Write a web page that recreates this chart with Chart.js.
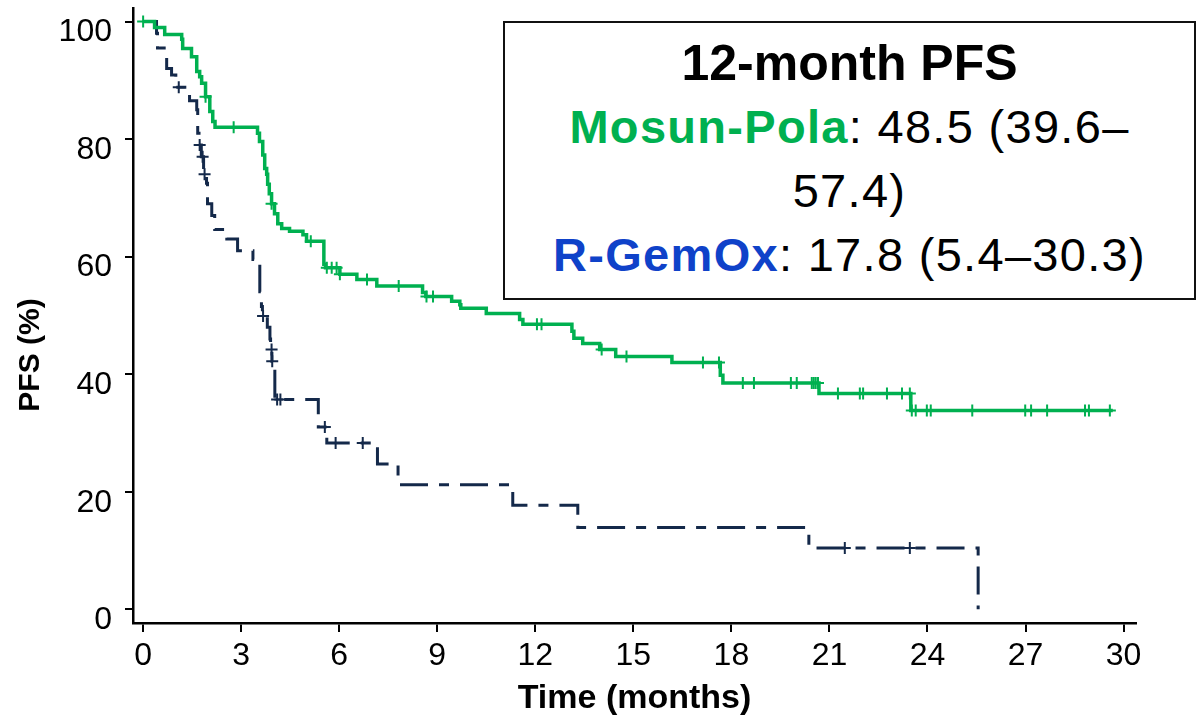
<!DOCTYPE html>
<html>
<head>
<meta charset="utf-8">
<script src="https://cdn.jsdelivr.net/npm/chart.js@4.4.1/dist/chart.umd.min.js"></script>
<style>
  body { margin: 0; background: #fff; }
  #wrap { position: relative; width: 1198px; height: 719px; }
  #pfsBox {
    position: absolute; left: 503px; top: 21px; width: 693px; height: 279px;
    box-sizing: border-box; border: 2px solid #111; background: #fff;
    padding-top: 8px; text-align: center;
    font-family: "Liberation Sans", Arial, sans-serif; color: #000;
  }
  #pfsBox div { line-height: 64px; height: 64px; font-size: 47px; letter-spacing: 1.3px; white-space: nowrap; }
  #pfsBox .head { font-size: 50px; font-weight: bold; letter-spacing: 0; }
  .green { color: #00b050; font-weight: bold; }
  .blue { color: #0f42c9; font-weight: bold; }
</style>
</head>
<body>
<div id="wrap">
  <canvas id="pfsChart" width="1198" height="719"></canvas>
  <div id="pfsBox">
    <div class="head">12-month PFS</div>
    <div><span class="green">Mosun-Pola</span>: 48.5 (39.6–</div>
    <div>57.4)</div>
    <div><span class="blue">R-GemOx</span>: 17.8 (5.4–30.3)</div>
  </div>
</div>
<script>
// Mosun-Pola arm: KM step times (months) and PFS (%) after each step
const mosunTimes = [0, 0.35, 0.66, 1.18, 1.21, 1.48, 1.64, 1.73, 1.79, 1.91, 2.04, 2.13, 2.2,
  3.5, 3.56, 3.66, 3.72, 3.78, 3.81, 3.86, 3.93, 4.02, 4.12, 4.24, 4.48, 4.89, 5.0,
  5.53, 5.58, 6.02, 6.54, 7.15, 8.55, 8.65, 9.44, 9.69, 9.72, 10.5, 11.52, 11.62,
  13.12, 13.18, 13.45, 13.97, 14.46, 16.18, 17.66, 17.74, 20.68, 23.49, 29.67];
const mosunPfs = [100, 99, 97.8, 97, 95.4, 94, 91.5, 90.6, 89.5, 87.2, 84.7, 83, 82,
  81, 79.6, 77.3, 75, 74, 72.3, 70.7, 69, 67.3, 65.6, 64.8, 64.3, 63.7, 62.6,
  58.7, 58.1, 57.0, 56.1, 55.0, 53.9, 53.2, 52.4, 51.8, 51.2, 50.3, 49.3, 48.5,
  47.3, 46.1, 45.2, 44.2, 43.0, 42.0, 39.8, 38.5, 36.7, 33.8, 33.8];
const mosunCensored = [0, 1.91, 2.77, 3.93, 5.13, 5.62, 5.77, 5.92, 6.02, 6.85, 7.82, 8.67, 8.87,
  12.05, 12.19, 14.03, 14.79, 17.13, 17.62, 18.35, 18.69, 19.82, 20.0, 20.46, 20.52, 20.58, 20.65,
  21.26, 21.93, 22.03, 22.76, 23.22, 23.46, 23.52, 23.64, 23.98, 24.1, 25.37, 26.99, 27.17,
  27.66, 28.82, 28.94, 29.58];

// R-GemOx arm
const gemoxTimes = [0, 0.41, 0.44, 0.72, 0.87, 1.0, 1.42, 1.64, 1.67, 1.71, 1.78, 1.85, 1.94, 1.97,
  2.1, 2.19, 2.56, 2.89, 3.36, 3.57, 3.62, 3.65, 3.8, 3.88, 3.9, 3.94, 4.03,
  5.36, 5.62, 7.17, 7.8, 11.31, 13.3, 20.37, 25.55];
const gemoxPfs = [100, 98, 95.5, 92, 90.9, 88.8, 86.5, 85, 81, 79, 77, 74, 72.5, 69,
  67, 64.6, 63, 61, 59.5, 54, 51.5, 49.9, 48, 46, 44.2, 42.2, 35.7,
  31, 28.3, 24.7, 21.2, 17.7, 13.9, 10.4, 0];
const gemoxCensored = [1.09, 1.73, 1.82, 1.88, 3.67, 3.93, 3.95, 4.1, 4.2, 5.56, 5.89, 6.72, 21.47, 23.46];

const xTickValues = [0, 3, 6, 9, 12, 15, 18, 21, 24, 27, 30];
const yTickValues = [0, 20, 40, 60, 80, 100];

const GREEN = '#00b050';
const NAVY = '#14294a';

function curve(times, pfs) {
  return times.map((t, i) => ({ x: t, y: pfs[i] }));
}
// censor marks sit on the curve level at that time
function marks(censored, times, pfs) {
  return censored.map(t => {
    let v = pfs[0];
    for (let i = 0; i < times.length; i++) if (times[i] <= t) v = pfs[i];
    return { x: t, y: v };
  });
}

const FAMILY = '"Liberation Sans", Arial, sans-serif';
const tickFont = { family: FAMILY, size: 32 };

// y title drawn by hand so it can sit lower than the axis centre, like the original
const yTitle = {
  id: 'yTitle',
  afterDraw(chart) {
    const ctx = chart.ctx;
    ctx.save();
    ctx.translate(31, 355);
    ctx.rotate(-Math.PI / 2);
    ctx.font = 'bold 30px ' + FAMILY;
    ctx.fillStyle = '#000';
    ctx.textAlign = 'center';
    ctx.textBaseline = 'middle';
    ctx.fillText('PFS (%)', 0, 0);
    ctx.restore();
  }
};

new Chart(document.getElementById('pfsChart').getContext('2d'), {
  type: 'scatter',
  data: {
    datasets: [
      {
        label: 'Mosun-Pola censored',
        data: marks(mosunCensored, mosunTimes, mosunPfs),
        pointStyle: 'cross', pointRadius: 6, borderWidth: 2,
        borderColor: GREEN, showLine: false
      },
      {
        label: 'Mosun-Pola',
        data: curve(mosunTimes, mosunPfs),
        showLine: true, stepped: 'before',
        borderColor: GREEN, borderWidth: 3.5, pointRadius: 0
      },
      {
        label: 'R-GemOx censored',
        data: marks(gemoxCensored, gemoxTimes, gemoxPfs),
        pointStyle: 'cross', pointRadius: 6, borderWidth: 2,
        borderColor: NAVY, showLine: false
      },
      {
        label: 'R-GemOx',
        data: curve(gemoxTimes, gemoxPfs),
        showLine: true, stepped: 'before',
        borderColor: NAVY, borderWidth: 3, pointRadius: 0,
        borderDash: [28, 11, 10, 11]
      }
    ]
  },
  options: {
    responsive: false,
    animation: false,
    layout: { padding: { left: 0, right: 62, top: 7, bottom: 0 } },
    plugins: { legend: { display: false }, tooltip: { enabled: false } },
    scales: {
      x: {
        type: 'linear', min: -0.31, max: 30.38,
        afterBuildTicks: s => { s.ticks = xTickValues.map(v => ({ value: v })); },
        afterFit: s => { s.height = 96; s.paddingLeft = 0; s.paddingRight = 0; },
        border: { color: '#000', width: 2.5 },
        grid: { drawOnChartArea: false, color: '#000', lineWidth: 2, tickLength: 9 },
        ticks: { color: '#000', font: tickFont, padding: 5, maxRotation: 0 },
        title: { display: true, text: 'Time (months)', color: '#000',
                 font: { family: FAMILY, size: 34, weight: 'bold' }, padding: { top: 0, bottom: 0 } }
      },
      y: {
        type: 'linear', min: -2.34, max: 102.3,
        afterBuildTicks: s => { s.ticks = yTickValues.map(v => ({ value: v })); },
        afterFit: s => { s.width = 133; s.paddingTop = 0; s.paddingBottom = 0; },
        border: { color: '#000', width: 2.5 },
        grid: { drawOnChartArea: false, color: '#000', lineWidth: 2, tickLength: 8 },
        ticks: { color: '#000', font: tickFont, padding: 13, labelOffset: 11 }
      }
    }
  },
  plugins: [yTitle]
});
</script>
</body>
</html>
